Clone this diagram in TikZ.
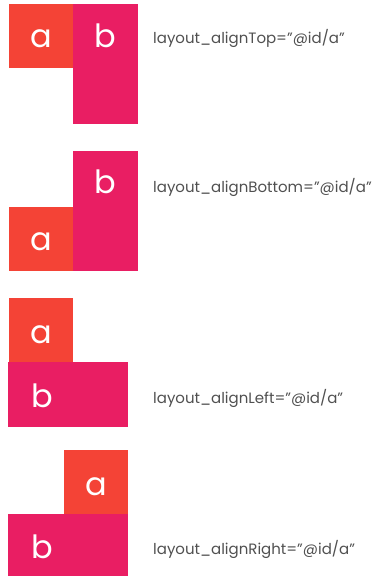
\documentclass[tikz,border=0pt]{standalone}
\usepackage{fontspec}
\setmainfont{Poppins}
\usepackage{xcolor}
\usetikzlibrary{positioning,calc}

\definecolor{boxA}{HTML}{F44336}
\definecolor{boxB}{HTML}{E91E63}
\definecolor{attr}{HTML}{505050}

\begin{document}
\begin{tikzpicture}[
  x=1pt, y=-1pt,
  sq/.style={anchor=north west, inner sep=0pt, outer sep=0pt, minimum width=64pt, minimum height=64pt},
  boxa/.style={sq, fill=boxA},
  boxb/.style={sq, fill=boxB},
  letter/.style={anchor=base, text=white, font=\fontsize{32}{32}\selectfont, inner sep=0pt},
  lbl/.style={anchor=base west, text=attr, font=\fontsize{15}{15}\selectfont, inner sep=0pt}
]
\useasboundingbox (0,0) rectangle (383,576);
\coordinate (col) at (153,0);

% alignTop
\node[boxa] (a1) at (9,4) {};
\node[boxb, minimum width=65pt, minimum height=120pt] (b1) at (a1.north east) {};
\node[letter] (ta1) at ($(a1.south)+(0,-21)$) {a};
\node[letter] (tb1) at (b1.center |- ta1.base) {b};
\node[lbl] (l1) at ($(col |- tb1.base)+(0,-4)$) {layout\_alignTop=”@id/a”};

% alignBottom
\node[boxb, minimum width=65pt, minimum height=120pt] (b2) at (73,151) {};
\node[boxa, anchor=south east] (a2) at (b2.south west) {};
\node[letter] (ta2) at ($(a2.south)+(0,-21)$) {a};
\node[letter] (tb2) at ($(b2.north)+(0,42)$) {b};
\node[lbl] (l2) at ($(col |- tb2.base)+(0,-1)$) {layout\_alignBottom=”@id/a”};

% alignLeft
\node[boxa] (a3) at (9,298) {};
\node[boxb, minimum width=120pt, minimum height=65pt] (b3) at ([xshift=-1pt]a3.south west) {};
\node[letter] (ta3) at ($(a3.south)+(0,-19)$) {a};
\node[letter] (tb3) at ([xshift=1pt]a3.south |- {$(b3.south)+(0,-20)$}) {b};
\node[lbl] (l3) at ($(col |- tb3.base)+(0,-4)$) {layout\_alignLeft=”@id/a”};

% alignRight
\node[boxa] (a4) at (64,450) {};
\node[boxb, minimum width=120pt, minimum height=62pt, anchor=north east] (b4) at (a4.south east) {};
\node[letter] (ta4) at ($(a4.south)+(0,-19)$) {a};
\node[letter] (tb4) at ($(b4.south west)+(34,-18)$) {b};
\node[lbl] (l4) at ($(col |- tb4.base)+(0,-4)$) {layout\_alignRight=”@id/a”};
\end{tikzpicture}
\end{document}
